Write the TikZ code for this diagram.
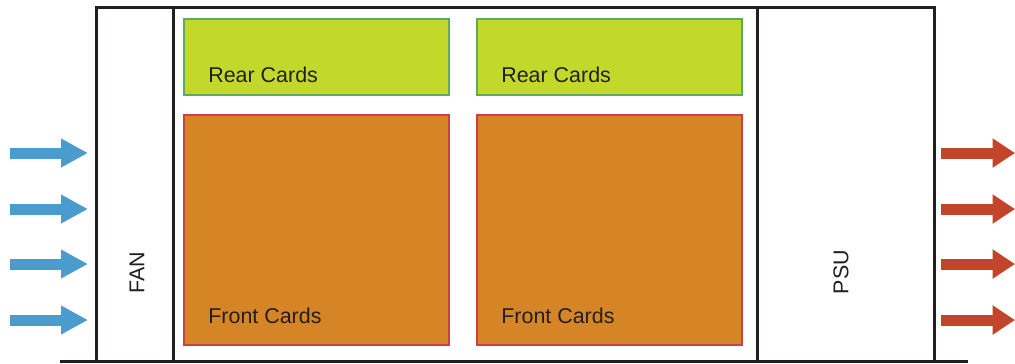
\documentclass[tikz,border=0pt]{standalone}
\usepackage{fontspec}
\setmainfont{Liberation Sans}
\usepackage{tikz}
\usetikzlibrary{arrows.meta}
\definecolor{airin}{HTML}{4A9CCF}
\definecolor{airout}{HTML}{C1442B}
\definecolor{rearfill}{HTML}{C2D92C}
\definecolor{rearline}{HTML}{5BAD5C}
\definecolor{frontfill}{HTML}{D58525}
\definecolor{frontline}{HTML}{CB3F4C}
\definecolor{ink}{HTML}{231F20}
\tikzset{
  chassis/.style={line width=0.06cm,draw=ink},
  rearcard/.style={fill=rearfill,draw=rearline,line width=0.04cm},
  frontcard/.style={fill=frontfill,draw=frontline,line width=0.04cm},
  cardlabel/.style={anchor=base west,inner sep=0pt,text=ink,font=\fontsize{12.2}{14}\selectfont},
  unitlabel/.style={rotate=90,inner sep=0pt,text=ink,font=\fontsize{12.2}{14}\selectfont},
  inflow/.style={line width=0.22cm,draw=airin,-{Triangle[length=0.54cm,width=0.54cm]}},
  outflow/.style={line width=0.22cm,draw=airout,-{Triangle[length=0.45cm,width=0.56cm]}}
}
\begin{document}
\begin{tikzpicture}[x=0.02cm,y=-0.02cm]
\useasboundingbox (0,0) rectangle (1015,363);
\draw[chassis] (96,361)--(96,7)--(934,7)--(934,361);\draw[chassis] (60,361)--(968,361);
\draw[chassis] (173,7)--(173,361);\draw[chassis] (757,7)--(757,361);
\foreach \x in {184,477} {\draw[rearcard] (\x,19) rectangle ++(265,76);\draw[frontcard] (\x,115) rectangle ++(265,230);}
\node[cardlabel] (rear1) at (208,82) {Rear Cards};\node[cardlabel] (rear2) at (501,82) {Rear Cards};
\node[cardlabel] (front1) at (208,323) {Front Cards};\node[cardlabel] (front2) at (501,323) {Front Cards};
\node[unitlabel] (fan) at (137,273) {FAN};\node[unitlabel] (psu) at (841,272) {PSU};
\foreach \y in {153,209,264,320} {\draw[inflow] (10,\y)--(88,\y);\draw[outflow] (941,\y)--(1015,\y);}
\end{tikzpicture}
\end{document}
